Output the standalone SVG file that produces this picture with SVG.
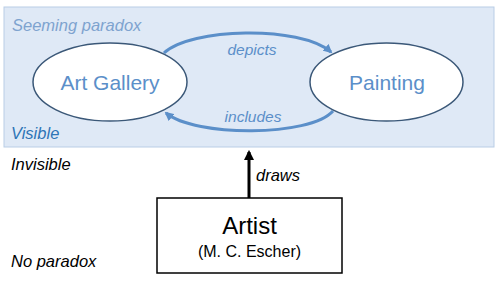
<svg xmlns="http://www.w3.org/2000/svg" width="500" height="281" viewBox="0 0 500 281">
<style>
.ell{fill:#ffffff;stroke:#3b5878;stroke-width:1.5}
.nt{font-family:"Liberation Sans",Arial,sans-serif;font-size:21px;fill:#5b8fc9;text-anchor:middle}
.lbl{font-family:"Liberation Sans",Arial,sans-serif;font-style:italic;font-size:15.5px;fill:#5b8fc9;text-anchor:middle}
.side{font-family:"Liberation Sans",Arial,sans-serif;font-style:italic;font-size:16.5px}
.arc{fill:none;stroke:#5b8fc9;stroke-width:3}
</style>
<defs>
<marker id="ab" viewBox="0 0 10 10" refX="8" refY="5" markerWidth="3" markerHeight="3" orient="auto"><path d="M0,0 L10,5 L0,10 z" fill="#5b8fc9"/></marker>
<marker id="ak" viewBox="0 0 10 10" refX="8" refY="5" markerWidth="3.5" markerHeight="3.5" orient="auto"><path d="M0,0 L10,5 L0,10 z" fill="#000"/></marker>
</defs>
<rect x="4" y="7" width="490" height="140" fill="#dfe9f6" stroke="#b9cde6" stroke-width="1"/>
<text class="side" x="12" y="31" fill="#7ea3cf">Seeming paradox</text>
<text class="side" x="11" y="139" fill="#2e75b6">Visible</text>
<text class="side" x="11" y="170" fill="#000">Invisible</text>
<text class="side" x="11" y="267" fill="#000">No paradox</text>
<g id="connectors">
<path class="arc" d="M164,53 C190,28 300,25 331,52" marker-end="url(#ab)"/>
<path class="arc" d="M333,111 C310,137 195,137 166,113" marker-end="url(#ab)"/>
<line x1="249" y1="198" x2="249" y2="152" stroke="#000" stroke-width="3" marker-end="url(#ak)"/>
<text class="lbl" x="252" y="55">depicts</text>
<text class="lbl" x="253" y="122">includes</text>
<text class="side" x="256" y="181" fill="#000">draws</text>
</g>
<g id="art-gallery">
<ellipse class="ell" cx="110" cy="82" rx="77" ry="39"/>
<text class="nt" x="110" y="90">Art Gallery</text>
</g>
<g id="painting">
<ellipse class="ell" cx="386.5" cy="82" rx="76.5" ry="39"/>
<text class="nt" x="387" y="90">Painting</text>
</g>
<g id="artist">
<rect x="157" y="198" width="185" height="75" fill="#fff" stroke="#000" stroke-width="1.5"/>
<text x="249.5" y="234" font-family="Liberation Sans,Arial,sans-serif" font-size="24" text-anchor="middle">Artist</text>
<text x="249.5" y="257" font-family="Liberation Sans,Arial,sans-serif" font-size="16" text-anchor="middle">(M. C. Escher)</text>
</g>
</svg>
